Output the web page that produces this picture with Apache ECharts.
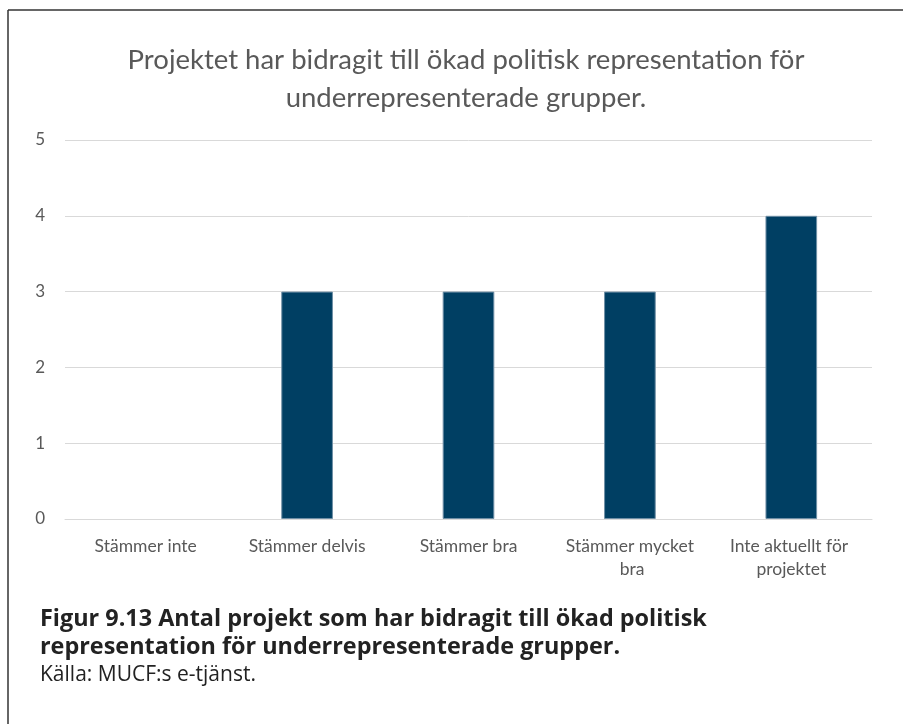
<!DOCTYPE html>
<html><head><meta charset="utf-8">
<script src="https://cdn.jsdelivr.net/npm/echarts@6/dist/echarts.min.js"></script>
<style>html,body{margin:0;padding:0;background:#fff;}#c{width:903px;height:724px;}</style>
</head><body><div id="c"></div>
<script>
const categories = ['Stämmer inte', 'Stämmer delvis', 'Stämmer bra', 'Stämmer mycket bra', 'Inte aktuellt för projektet'];
const values = [0, 3, 3, 3, 4];
const chartTitle = 'Projektet har bidragit till ökad politisk representation för\nunderrepresenterade grupper.';
const captionTitle = 'Figur 9.13 Antal projekt som har bidragit till ökad politisk\nrepresentation för underrepresenterade grupper.';
const captionSource = 'Källa: MUCF:s e-tjänst.';

const chart = echarts.init(document.getElementById('c'), null, {renderer: 'canvas'});
chart.setOption({
  backgroundColor: '#fff',
  animation: false,
  title: [{
    text: chartTitle,
    left: 461, top: 36, textAlign: 'center',
    textStyle: {fontFamily: 'Lato', fontWeight: 'normal', fontSize: 27.5, color: '#595959', lineHeight: 38, align: 'center'}
  }],
  graphic: [
    {type: 'line', shape: {x1: 8, y1: 10, x2: 8, y2: 724}, style: {stroke: '#333', lineWidth: 1.5}},
    {type: 'line', shape: {x1: 8, y1: 10, x2: 903, y2: 10}, style: {stroke: '#333', lineWidth: 1.5}},
    {type: 'text', left: 40, top: 605, style: {text: captionTitle, font: 'bold 23.4px "Open Sans"', fill: '#222', lineHeight: 28}},
    {type: 'text', left: 40, top: 665, style: {text: captionSource, font: '21px "Open Sans"', fill: '#222'}}
  ],
  grid: {left: 65, right: 31, top: 140, bottom: 205, containLabel: false},
  xAxis: {
    type: 'category', data: categories,
    axisLine: {lineStyle: {color: '#d9d9d9', width: 1}},
    axisTick: {show: false},
    axisLabel: {fontFamily: 'Lato', fontSize: 17.5, color: '#595959', margin: 16, lineHeight: 23, width: 140, overflow: 'break', interval: 0}
  },
  yAxis: {
    type: 'value', min: 0, max: 5, interval: 1,
    axisLine: {show: false}, axisTick: {show: false},
    splitLine: {lineStyle: {color: '#d9d9d9', width: 1}},
    axisLabel: {fontFamily: 'Lato', fontSize: 17, color: '#595959', margin: 20}
  },
  series: [{
    type: 'bar', barWidth: '32%',
    data: values.map(v => ({value: v, itemStyle: {borderWidth: v === 0 ? 0 : 1}})),
    itemStyle: {color: '#003f63', borderColor: '#6f8fa6', borderWidth: 1}
  }]
});
</script></body></html>
